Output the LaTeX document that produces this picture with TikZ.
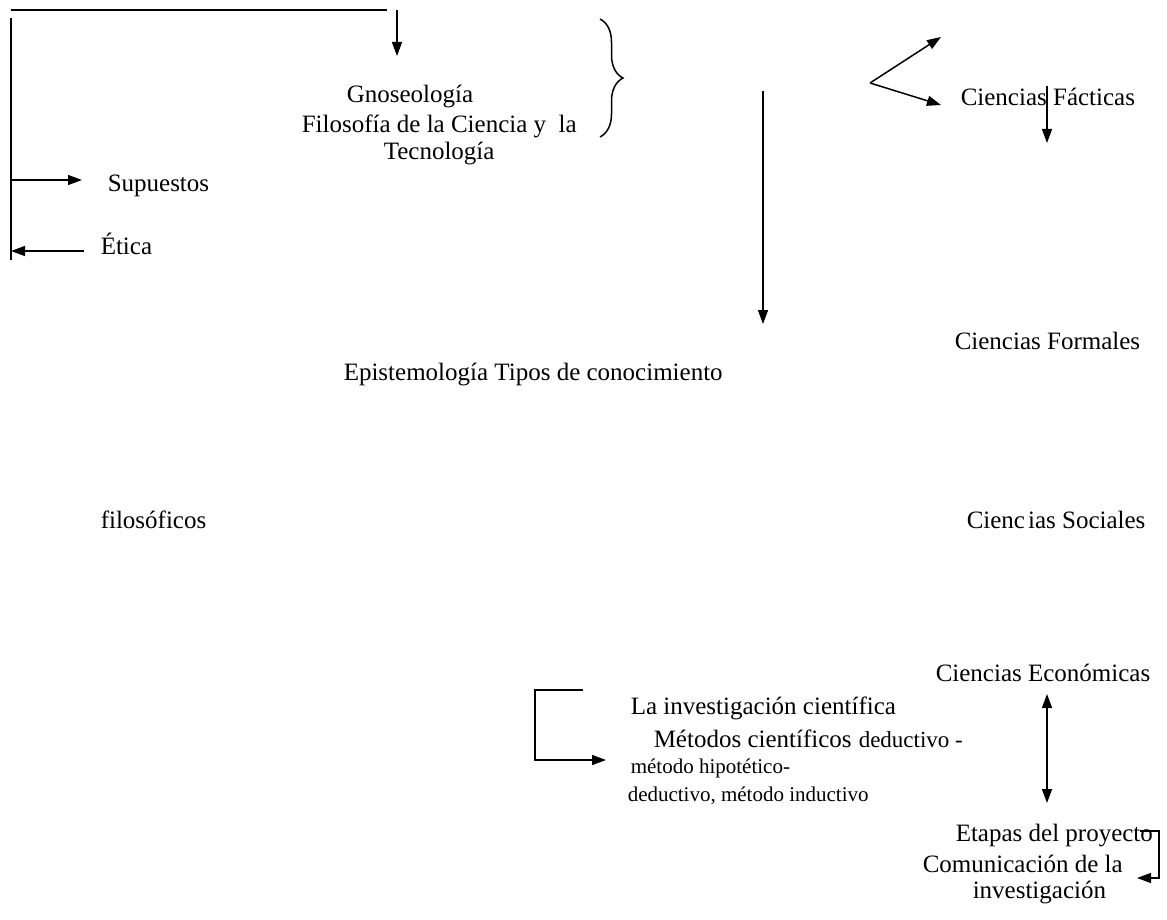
\documentclass[tikz,border=0pt]{standalone}
\usepackage{fontspec}
\setmainfont{Liberation Serif}
\usetikzlibrary{arrows.meta, decorations.pathreplacing}

\begin{document}
\begin{tikzpicture}[
    x=0.5pt, y=-0.5pt,
    line width=0.75pt,
    >={Triangle[length=7pt, width=5pt]},
    term/.style={inner sep=0pt, anchor=west, font=\fontsize{12.5}{15}\selectfont},
    note/.style={inner sep=0pt, anchor=west, font=\fontsize{10.5}{13}\selectfont}
  ]
    \useasboundingbox (0,0) rectangle (1167,920);

    \node[term] (gnoseo) at (346,97) {Gnoseología};
    \node[term] (filo) at (301,126) {Filosofía de la Ciencia y\ \ la};
    \node[term] (tecno) at (383,154) {Tecnología};
    \node[term] (supuestos) at (107,186) {Supuestos};
    \node[term] (etica) at (100,244) {Ética};
    \node[term] (episte) at (343,375) {Epistemología Tipos de conocimiento};
    \node[term] (filosof) at (100,520) {filosóficos};
    \node[term] (facticas) at (960,97) {Ciencias Fácticas};
    \node[term] (formales) at (954,341) {Ciencias Formales};
    \node[term] (sociales) at (966,520) {Cienc\hspace{1.5pt}ias Sociales};
    \node[term] (economicas) at (935,673) {Ciencias Económicas};
    \node[term] (investig) at (630,708) {La investigación científica};
    \node[term] (metodos) at (653,739) {Métodos científicos};
    \node[note, font=\fontsize{11.5}{14}\selectfont] (deduct) at (858,740) {deductivo -};
    \node[note] (hipot) at (630,768) {método hipotético-};
    \node[note] (induct) at (627,796) {deductivo, método inductivo};
    \node[term] (etapas) at (955,836) {Etapas del proyecto};
    \node[term] (comunic) at (922,864) {Comunicación de la};
    \node[term] (invest2) at (972,892) {investigación};

    \coordinate (topL) at (11,10);
    \coordinate (topR) at (387,10);
    \coordinate (downA) at (397,10);
    \coordinate (downB) at (397,56);
    \coordinate (leftA) at (11,18);
    \coordinate (leftB) at (11,260);
    \coordinate (supA) at (11,180);
    \coordinate (supB) at (82,180);
    \coordinate (etiA) at (84,251);
    \coordinate (etiB) at (11,251);
    \coordinate (braceA) at (600,19);
    \coordinate (braceB) at (600,137);
    \coordinate (longA) at (763,91);
    \coordinate (longB) at (763,324);
    \coordinate (fork) at (870,83);
    \coordinate (forkUp) at (941,37);
    \coordinate (forkDown) at (941,105);
    \coordinate (factA) at (1047,86);
    \coordinate (factB) at (1047,143);
    \coordinate (econA) at (1047,694);
    \coordinate (econB) at (1047,803);
    \coordinate (invA) at (583,690);
    \coordinate (invC) at (535,690);
    \coordinate (invD) at (535,760);
    \coordinate (invB) at (606,760);
    \coordinate (etaA) at (1140,831);
    \coordinate (etaC) at (1159,831);
    \coordinate (etaD) at (1159,878);
    \coordinate (etaB) at (1137,878);

    \draw (topL) -- (topR);
    \draw[->] (downA) -- (downB);
    \draw (leftA) -- (leftB);
    \draw[->] (supA) -- (supB);
    \draw[->] (etiA) -- (etiB);
    \draw[decorate, decoration={brace, amplitude=11.5pt}] (braceA) -- (braceB);
    \draw[->] (longA) -- (longB);
    \draw[->] (fork) -- (forkUp);
    \draw[->] (fork) -- (forkDown);
    \draw[->] (factA) -- (factB);
    \draw[<->] (econA) -- (econB);
    \draw[->] (invA) -- (invC) -- (invD) -- (invB);
    \draw[->] (etaA) -- (etaC) -- (etaD) -- (etaB);
  \end{tikzpicture}
\end{document}
